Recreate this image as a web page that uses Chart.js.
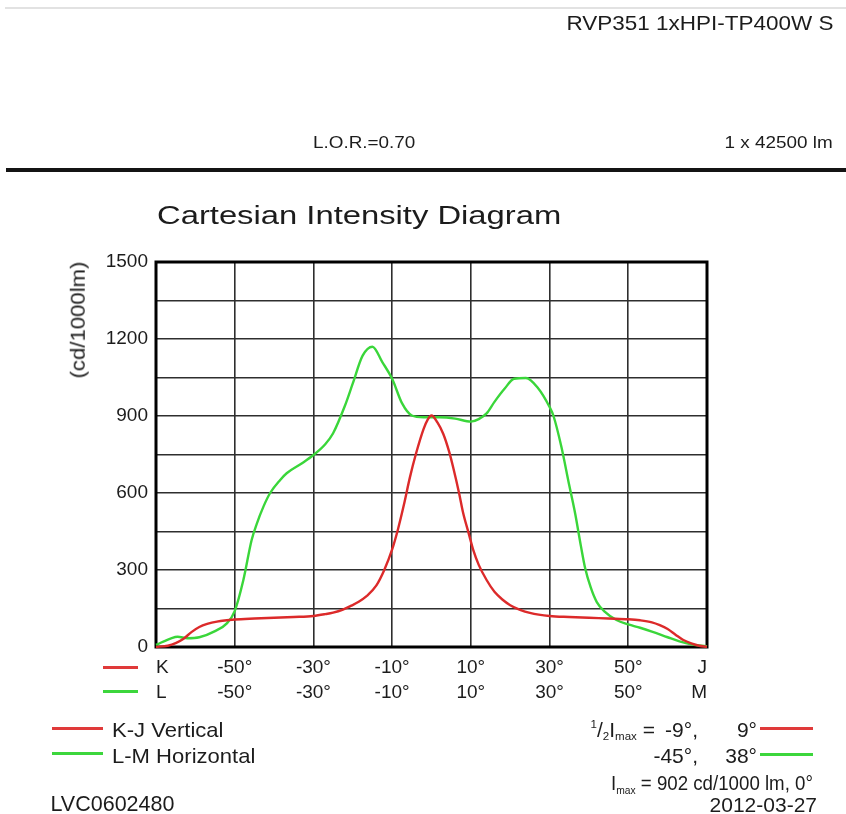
<!DOCTYPE html>
<html><head><meta charset="utf-8">
<script src="https://cdn.jsdelivr.net/npm/chart.js@4.4.1/dist/chart.umd.min.js"></script>
<style>
html,body{margin:0;padding:0;background:#fff;}
#wrap{position:relative;width:846px;height:814px;overflow:hidden;font-family:'Liberation Sans',Arial,sans-serif;color:#1c1c1c;}
#c{position:absolute;left:0;top:0;}
.t{position:absolute;white-space:pre;line-height:1;}
.r{transform-origin:right center;}
.l{transform-origin:left center;}
.ln{position:absolute;height:3px;}
.sm{position:relative;font-size:0.55em;}
</style></head><body>
<div id="wrap">
<canvas id="c" width="846" height="814"></canvas>
<div style="position:absolute;left:5px;right:0;top:7px;height:2px;background:#e2e2e2"></div>
<div style="position:absolute;left:6px;right:0;top:168px;height:4px;background:#141414"></div>

<span class="t r" style="font-size:21px;top:12.2px;right:13px;transform:scaleX(1.07)">RVP351 1xHPI-TP400W S</span>
<span class="t l" style="font-size:16px;top:134.8px;left:313px;transform:scaleX(1.18)">L.O.R.=0.70</span>
<span class="t r" style="font-size:16px;top:134.8px;right:13px;transform:scaleX(1.18)">1 x 42500 lm</span>
<span class="t l" style="font-size:25.6px;top:203.3px;left:157px;transform:scaleX(1.28)">Cartesian Intensity Diagram</span>
<span class="t" style="font-size:20.5px;left:77.5px;top:320px;transform:translate(-50%,-50%) rotate(-90deg) scaleX(1.08)">(cd/1000lm)</span>

<div class="ln" style="left:103px;width:35px;top:665.5px;background:#e03a3a"></div>
<div class="ln" style="left:103px;width:35px;top:690px;background:#3cd63c"></div>

<div class="ln" style="left:52px;width:51px;top:726.5px;background:#e03a3a"></div>
<div class="ln" style="left:52px;width:51px;top:752px;background:#3cd63c"></div>
<span class="t l" style="font-size:21px;top:718.9px;left:111.5px;transform:scaleX(1.05)">K-J Vertical</span>
<span class="t l" style="font-size:21px;top:745.2px;left:111.5px;transform:scaleX(1.05)">L-M Horizontal</span>
<span class="t" style="font-size:21.5px;top:793.5px;left:50.5px">LVC0602480</span>

<span class="t r" style="font-size:21px;top:718.9px;right:191px"><span class="sm" style="top:-0.75em">1</span>/<span class="sm" style="top:0.3em">2</span>I<span class="sm" style="top:0.3em">max</span> =</span>
<span class="t r" style="font-size:21px;top:718.9px;right:148px">-9°,</span>
<span class="t r" style="font-size:21px;top:718.9px;right:89px">9°</span>
<span class="t r" style="font-size:21px;top:745.2px;right:148px">-45°,</span>
<span class="t r" style="font-size:21px;top:745.2px;right:89px">38°</span>
<div class="ln" style="left:760px;width:53px;top:726.5px;background:#e03a3a"></div>
<div class="ln" style="left:760px;width:53px;top:752.5px;background:#3cd63c"></div>
<span class="t r" style="font-size:21px;top:772.2px;right:33px;transform:scaleX(0.89)">I<span class="sm" style="top:0.3em">max</span> = 902 cd/1000 lm, 0°</span>
<span class="t r" style="font-size:21px;top:794.2px;right:29px">2012-03-27</span>
</div>
<script>
// ---- data ----
const kjAngles = [-70,-67,-65,-63,-61,-59,-57,-54.5,-50,-45,-40,-35,-30,-27,-25,-22.5,-20.5,-18.5,-16.5,-14,-12,-10,-8.5,-7,-5.5,-4,-2,-1,0,1.5,3,4.5,5.5,7,8,9.5,10.6,12,14,16,18,20,22.5,25,30,35,40,45,50,53,56,58,60,62,64,66,68,70];
const kjValues = [0,5,15,32,58,78,90,99,107,111,114,117,121,128,134,146,160,176,198,240,300,380,460,555,660,750,850,885,902,875,830,760,700,600,525,440,378,320,261,215,185,163,145,133,121,117,114,111,108,104,96,85,70,48,27,14,5,1];

const lmAngles = [-70,-66,-64.5,-62,-59,-55,-52,-50,-47.8,-45.7,-44.4,-42.7,-41,-38.5,-36.8,-33,-30,-27,-25,-22,-20,-17.5,-15,-12.5,-10,-7.5,-5,-2,2,6,10,12,14,16,18.5,21,24,27,30,31,33,35,36.5,38,39,40.5,42,44,47,50,53,56,60,63,66,68,70];
const lmValues = [8,35,40,34,38,62,92,140,261,417,480,547,600,650,677,715,748,790,833,940,1027,1135,1170,1110,1045,950,902,895,895,890,878,888,910,955,1005,1045,1048,1010,935,900,780,630,520,390,310,230,175,138,105,88,75,60,38,22,10,6,3];

const xTickValues = [-70,-50,-30,-10,10,30,50,70];
const kjTickLabels = ['K','-50°','-30°','-10°','10°','30°','50°','J'];
const lmTickLabels = ['L','-50°','-30°','-10°','10°','30°','50°','M'];
const yTickValues = [0,150,300,450,600,750,900,1050,1200,1350,1500];
const yTickLabels = ['0','','300','','600','','900','','1200','','1500'];

const seriesNames = ['K-J Vertical','L-M Horizontal'];
const RED = '#dc2a2a', GREEN = '#3ad63a';

const toPts = (xs, ys) => xs.map((x, i) => ({x, y: ys[i]}));

const framePlugin = {
  id: 'frame',
  beforeDatasetsDraw(chart) {
    const {ctx, chartArea: a} = chart;
    ctx.save();
    ctx.strokeStyle = '#000';
    ctx.lineWidth = 3;
    ctx.strokeRect(a.left, a.top, a.right - a.left, a.bottom - a.top);
    ctx.restore();
  }
};

new Chart(document.getElementById('c'), {
  type: 'line',
  data: {
    datasets: [
      {label: seriesNames[0], data: toPts(kjAngles, kjValues), borderColor: RED, borderWidth: 2.4, pointRadius: 0, cubicInterpolationMode: 'monotone', clip: false},
      {label: seriesNames[1], data: toPts(lmAngles, lmValues), borderColor: GREEN, borderWidth: 2.4, pointRadius: 0, cubicInterpolationMode: 'monotone', clip: false}
    ]
  },
  options: {
    responsive: false,
    animation: false,
    devicePixelRatio: 1,
    layout: {padding: {top: 262, right: 139, bottom: 0, left: 0}},
    plugins: {legend: {display: false}, tooltip: {enabled: false}, title: {display: false}},
    scales: {
      x: {
        type: 'linear', min: -70, max: 70,
        afterBuildTicks: s => { s.ticks = xTickValues.map(v => ({value: v})); },
        afterFit: s => { s.height = 167; s.paddingLeft = 0; s.paddingRight = 0; },
        border: {display: false},
        grid: {color: '#2e2e2e', lineWidth: 1.6, drawTicks: false},
        ticks: {
          align: 'inner', maxRotation: 0, autoSkip: false, padding: 8, color: '#1c1c1c',
          font: {family: "'Liberation Sans', Arial, sans-serif", size: 19, lineHeight: 1.316},
          callback: (v, i) => [kjTickLabels[i], lmTickLabels[i]]
        }
      },
      y: {
        type: 'linear', min: 0, max: 1500,
        afterBuildTicks: s => { s.ticks = yTickValues.map(v => ({value: v})); },
        afterFit: s => { s.width = 156; },
        border: {display: false},
        grid: {color: '#2e2e2e', lineWidth: 1.6, drawTicks: false},
        ticks: {
          padding: 8, color: '#1c1c1c', autoSkip: false,
          font: {family: "'Liberation Sans', Arial, sans-serif", size: 19},
          callback: (v, i) => yTickLabels[i]
        }
      }
    }
  },
  plugins: [framePlugin]
});
</script>
</body></html>
